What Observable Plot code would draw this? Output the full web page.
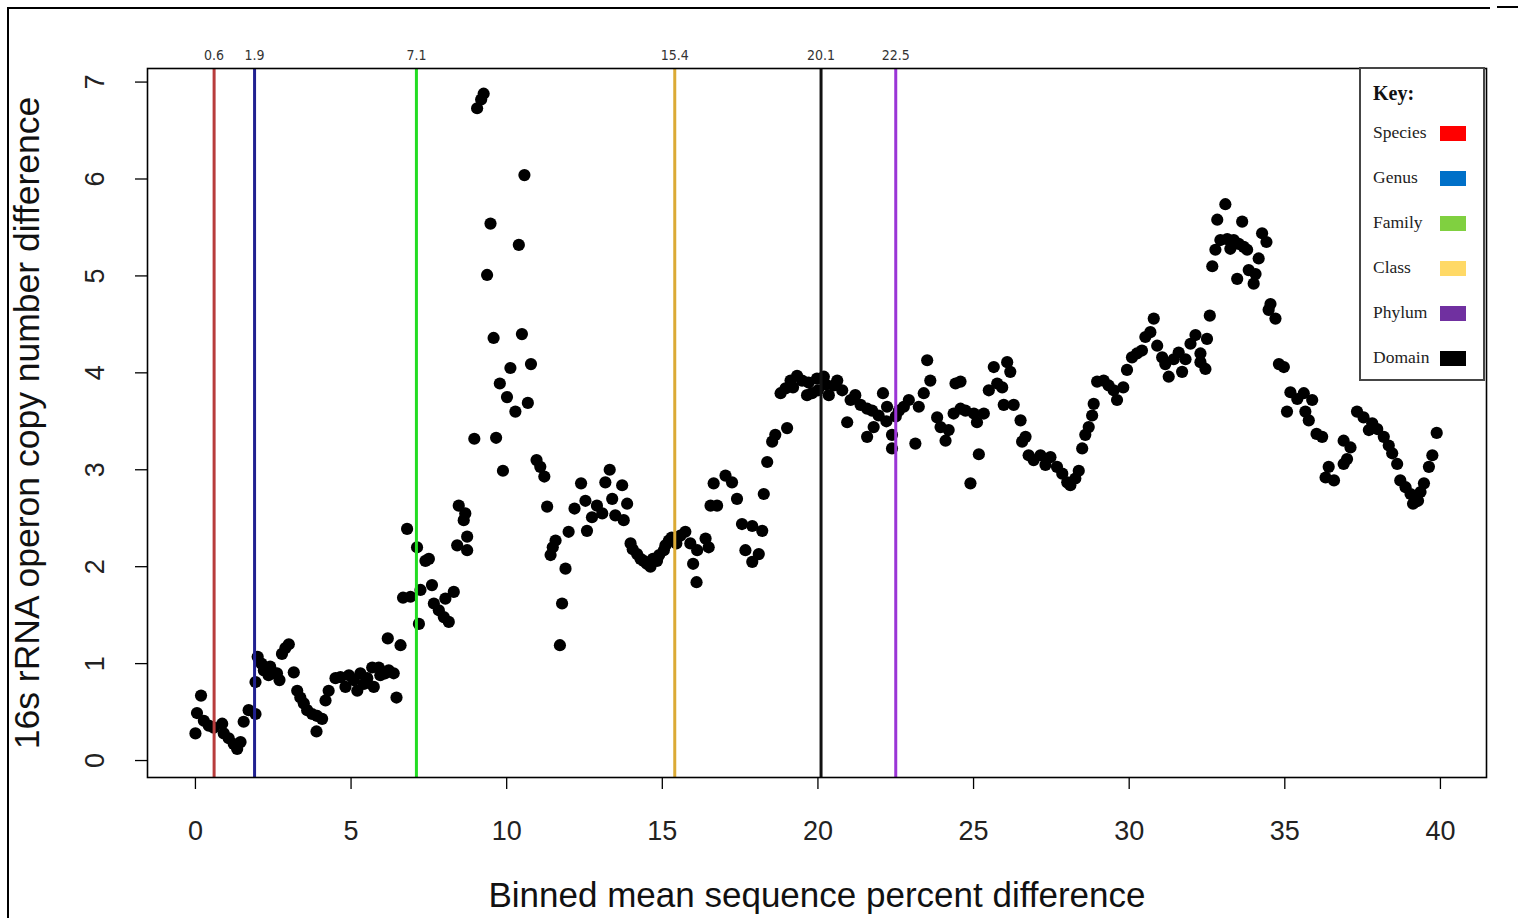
<!DOCTYPE html>
<html>
<head>
<meta charset="utf-8">
<script src="https://cdn.jsdelivr.net/npm/d3@7"></script>
<script src="https://cdn.jsdelivr.net/npm/@observablehq/plot@0.6"></script>
<style>
  html, body { margin: 0; padding: 0; background: white; }
  #wrap { position: relative; width: 1518px; height: 918px; overflow: hidden; background: white; }
  #wrap svg { position: absolute; left: 0; top: 0; }
  .edge { position: absolute; background: black; }
  #legend { position: absolute; left: 1359px; top: 67px; width: 122px; height: 310px; border: 2.5px solid #454545; background: white;
            font-family: 'Liberation Serif', 'Times New Roman', serif; color: #222; }
  #legend .item { position: absolute; left: 12px; font-size: 17.5px; line-height: 20px; }
  #legend .sw { position: absolute; left: 79px; width: 26px; height: 15px; }
  #legend .key { position: absolute; left: 12px; top: 13px; font-size: 20px; font-weight: bold; color: #111; }
</style>
</head>
<body>
<div id="wrap"></div>
<script>
// ---- data ----
const xTitle = "Binned mean sequence percent difference";
const yTitle = "16s rRNA operon copy number difference";
const xTicks = [0, 5, 10, 15, 20, 25, 30, 35, 40];
const yTicks = [0, 1, 2, 3, 4, 5, 6, 7];

// taxonomic cut-off lines
const cutoffValues = [0.6, 1.9, 7.1, 15.4, 20.1, 22.5];
const cutoffLabels = ["0.6", "1.9", "7.1", "15.4", "20.1", "22.5"];
const cutoffColors = ["#b83c3c", "#202090", "#22dd22", "#dbaa35", "#111111", "#9a35d6"];

// legend ("Key:")
const keyNames = ["Species", "Genus", "Family", "Class", "Phylum", "Domain"];
const keyColors = ["#ff0000", "#0070c8", "#80d040", "#ffd966", "#7030a0", "#000000"];

// points [binned % difference, copy number difference]
const seg0to9 = [
  [0.00,0.28],[0.05,0.49],[0.18,0.67],[0.27,0.41],[0.43,0.36],[0.59,0.34],[0.86,0.38],[0.91,0.28],
  [1.07,0.23],[1.23,0.17],[1.34,0.12],[1.45,0.19],[1.55,0.40],[1.71,0.52],[1.93,0.48],[1.93,0.81],
  [2.00,1.07],[2.12,1.00],[2.20,0.93],[2.30,0.95],[2.40,0.97],[2.46,0.91],[2.55,0.90],[2.62,0.90],
  [2.35,0.88],[2.70,0.83],[2.78,1.10],[2.89,1.16],[3.00,1.20],[3.16,0.91],[3.27,0.72],[3.37,0.65],
  [3.48,0.59],[3.59,0.52],[3.75,0.48],[3.91,0.46],[4.07,0.43],[3.89,0.30],[4.18,0.62],[4.28,0.72],
  [4.50,0.85],[4.66,0.86],[4.82,0.76],[4.93,0.88],[5.09,0.83],[5.20,0.72],[5.30,0.90],[5.41,0.79],
  [5.52,0.85],[5.68,0.96],[5.73,0.76],[5.89,0.96],[5.94,0.88],[6.10,0.90],[6.21,0.93],[6.37,0.90],
  [6.46,0.65],[6.18,1.26],[6.59,1.19],[6.80,2.39],[6.67,1.68],[6.91,1.69],[7.12,2.20],[7.39,2.06],
  [7.50,2.08],[7.23,1.76],[7.60,1.81],[7.18,1.41],[7.66,1.62],[7.82,1.55],[7.98,1.48],[8.14,1.43],
  [8.03,1.67],[8.30,1.74],[8.41,2.22],[8.73,2.17],[8.73,2.31],[8.62,2.48],[8.67,2.55],[8.46,2.63]
];
const seg9to17 = [
  [9.05,6.73],[9.18,6.82],[9.26,6.88],[10.57,6.04],[9.48,5.54],[10.39,5.32],[9.37,5.01],[9.58,4.36],
  [10.49,4.40],[10.12,4.05],[10.78,4.09],[9.78,3.89],[10.01,3.75],[10.28,3.60],[10.68,3.69],[8.96,3.32],
  [9.66,3.33],[9.88,2.99],[10.96,3.10],[11.08,3.03],[11.21,2.93],[11.30,2.62],[11.57,2.27],[11.48,2.20],
  [11.41,2.12],[11.89,1.98],[11.78,1.62],[11.71,1.19],[11.99,2.36],[12.18,2.60],[12.39,2.86],[12.53,2.68],
  [12.58,2.37],[12.74,2.51],[12.90,2.63],[13.07,2.55],[13.17,2.87],[13.31,3.00],[13.39,2.70],[13.49,2.53],
  [13.71,2.84],[13.87,2.65],[13.76,2.48],[13.98,2.24],[14.05,2.18],[14.19,2.13],[14.30,2.08],[14.40,2.06],
  [14.50,2.03],[14.62,2.00],[14.70,2.08],[14.83,2.06],[14.90,2.12],[15.05,2.17],[15.10,2.22],[15.21,2.27],
  [15.30,2.30],[15.45,2.24],[15.58,2.32],[15.74,2.36],[15.90,2.24],[16.12,2.17],[15.99,2.03],[16.10,1.84],
  [16.39,2.29],[16.49,2.20],[16.65,2.86],[16.55,2.63],[16.76,2.63]
];
const seg17to25 = [
  [17.03,2.94],[17.24,2.87],[17.40,2.70],[17.56,2.44],[17.89,2.42],[18.21,2.37],[17.67,2.17],[17.89,2.05],
  [18.10,2.13],[18.26,2.75],[18.37,3.08],[18.53,3.29],[18.63,3.36],[19.01,3.43],[18.80,3.79],[18.96,3.84],
  [19.12,3.92],[19.20,3.85],[19.33,3.97],[19.49,3.92],[19.65,3.77],[19.70,3.90],[19.81,3.79],[19.97,3.94],
  [20.00,3.82],[20.19,3.96],[20.25,3.88],[20.35,3.77],[20.51,3.87],[20.62,3.92],[20.78,3.82],[20.94,3.49],
  [21.05,3.72],[21.20,3.77],[21.37,3.67],[21.58,3.63],[21.74,3.61],[21.58,3.34],[21.79,3.44],[21.95,3.56],
  [22.09,3.79],[22.20,3.50],[22.22,3.65],[22.38,3.36],[22.38,3.22],[22.50,3.55],[22.60,3.61],[22.76,3.65],
  [22.92,3.72],[23.13,3.27],[23.24,3.65],[23.40,3.79],[23.61,3.92],[23.51,4.13],[23.83,3.54],[23.94,3.44],
  [24.10,3.30],[24.20,3.41],[24.36,3.58],[24.42,3.89],[24.58,3.63],[24.58,3.91]
];
const seg25to33 = [
  [24.74,3.61],[25.01,3.58],[25.11,3.49],[25.33,3.58],[25.17,3.16],[24.90,2.86],[25.49,3.82],[25.65,4.06],
  [25.76,3.89],[25.92,3.85],[26.08,4.11],[26.18,4.01],[25.97,3.67],[26.29,3.67],[26.51,3.51],[26.67,3.34],
  [26.56,3.29],[26.77,3.15],[26.93,3.10],[27.15,3.15],[27.31,3.05],[27.47,3.13],[27.68,3.03],[27.85,2.96],
  [28.01,2.87],[28.11,2.84],[28.27,2.91],[28.38,2.99],[28.49,3.22],[28.59,3.36],[28.70,3.44],[28.81,3.56],
  [28.86,3.68],[28.97,3.91],[29.18,3.92],[29.34,3.87],[29.50,3.82],[29.61,3.72],[29.81,3.85],[29.93,4.03],
  [30.09,4.16],[30.25,4.20],[30.41,4.23],[30.52,4.37],[30.68,4.42],[30.79,4.56],[30.90,4.28],[31.06,4.16],
  [31.16,4.09],[31.27,3.96],[31.43,4.14],[31.59,4.21],[31.70,4.01],[31.81,4.14],[31.97,4.30],[32.13,4.39],
  [32.29,4.11],[32.29,4.20],[32.45,4.04],[32.50,4.35],[32.59,4.59]
];
const seg33to40 = [
  [33.09,5.74],[32.83,5.58],[33.63,5.56],[32.93,5.37],[33.15,5.38],[33.36,5.37],[33.52,5.33],[33.68,5.30],
  [33.25,5.28],[32.77,5.27],[32.67,5.10],[33.47,4.97],[33.79,5.27],[34.16,5.18],[34.27,5.44],[34.41,5.35],
  [33.84,5.06],[34.06,5.02],[34.00,4.92],[34.54,4.71],[34.48,4.65],[34.70,4.56],[34.81,4.09],[34.97,4.06],
  [35.18,3.80],[35.40,3.73],[35.61,3.79],[35.88,3.72],[35.07,3.60],[35.66,3.60],[35.77,3.51],[36.02,3.37],
  [36.20,3.34],[36.89,3.30],[37.11,3.23],[37.00,3.11],[36.89,3.06],[36.41,3.03],[36.31,2.92],[36.58,2.89],
  [37.32,3.60],[37.53,3.54],[37.70,3.41],[37.81,3.48],[37.97,3.42],[38.18,3.34],[38.34,3.25],[38.45,3.17],
  [38.61,3.06],[38.71,2.89],[38.88,2.82],[39.04,2.75],[39.12,2.65],[39.20,2.67],[39.28,2.68],[39.36,2.77],
  [39.47,2.86],[39.63,3.03],[39.74,3.15],[39.88,3.38]
];

// ---- build tables for Plot ----
const points = [...seg0to9, ...seg9to17, ...seg17to25, ...seg25to33, ...seg33to40]
  .map(([x, y]) => ({x, y}));
const cutoffs = cutoffValues.map((v, i) => ({value: v, label: cutoffLabels[i], color: cutoffColors[i]}));

const chart = Plot.plot({
  width: 1518,
  height: 918,
  marginLeft: 147,
  marginRight: 32,
  marginTop: 68,
  marginBottom: 141,
  style: {fontFamily: "'Liberation Sans', Arial, sans-serif", background: "white", color: "black", overflow: "visible"},
  x: {domain: [-1.54, 41.48]},
  y: {domain: [-0.175, 7.14]},
  marks: [
    Plot.dot(points, {x: "x", y: "y", r: 6.1, fill: "black", stroke: "none"}),
    Plot.ruleX(cutoffs, {x: "value", stroke: "color", strokeWidth: 3}),
    Plot.frame({stroke: "black", strokeWidth: 1.6}),
    Plot.axisX({ticks: xTicks, tickSize: 12, tickPadding: 31, fontSize: 27, label: null, fill: "#222", strokeWidth: 1.3}),
    Plot.axisY({ticks: yTicks, tickSize: 12, tickFormat: () => "", label: null, strokeWidth: 1.3}),
    Plot.text(yTicks, {y: d => d, text: d => String(d), frameAnchor: "left", dx: -52, rotate: -90,
      textAnchor: "middle", lineAnchor: "middle", fontSize: 27, fill: "#222"}),
    Plot.text(cutoffs, {x: "value", text: "label", frameAnchor: "top", dy: -13, lineAnchor: "middle",
      fontSize: 14, fill: "#333", fontFamily: "'Liberation Sans Narrow', 'DejaVu Sans Condensed', sans-serif"}),
    Plot.text([xTitle], {text: d => d, frameAnchor: "bottom", dy: 118, lineAnchor: "middle",
      textAnchor: "middle", fontSize: 35, fill: "#111"}),
    Plot.text([yTitle], {text: d => d, frameAnchor: "left", dx: -120, rotate: -90, lineAnchor: "middle",
      textAnchor: "middle", fontSize: 35.5, fill: "#111"})
  ]
});

const wrap = document.getElementById("wrap");
wrap.appendChild(chart);

// outer image border fragments
[[7, 7, 1483, 1.5], [1497, 6, 21, 2], [7, 7, 1.5, 911]].forEach(([l, t, w, h]) => {
  const e = document.createElement("div");
  e.className = "edge";
  Object.assign(e.style, {left: l + "px", top: t + "px", width: w + "px", height: h + "px"});
  wrap.appendChild(e);
});

// legend
const legend = document.createElement("div");
legend.id = "legend";
const key = document.createElement("div");
key.className = "key";
key.textContent = "Key:";
legend.appendChild(key);
keyNames.forEach((name, i) => {
  const cy = 63 + i * 45;
  const t = document.createElement("div");
  t.className = "item";
  t.style.top = (cy - 10) + "px";
  t.textContent = name;
  legend.appendChild(t);
  const s = document.createElement("div");
  s.className = "sw";
  s.style.top = (cy - 6) + "px";
  s.style.background = keyColors[i];
  legend.appendChild(s);
});
wrap.appendChild(legend);
</script>
</body>
</html>
